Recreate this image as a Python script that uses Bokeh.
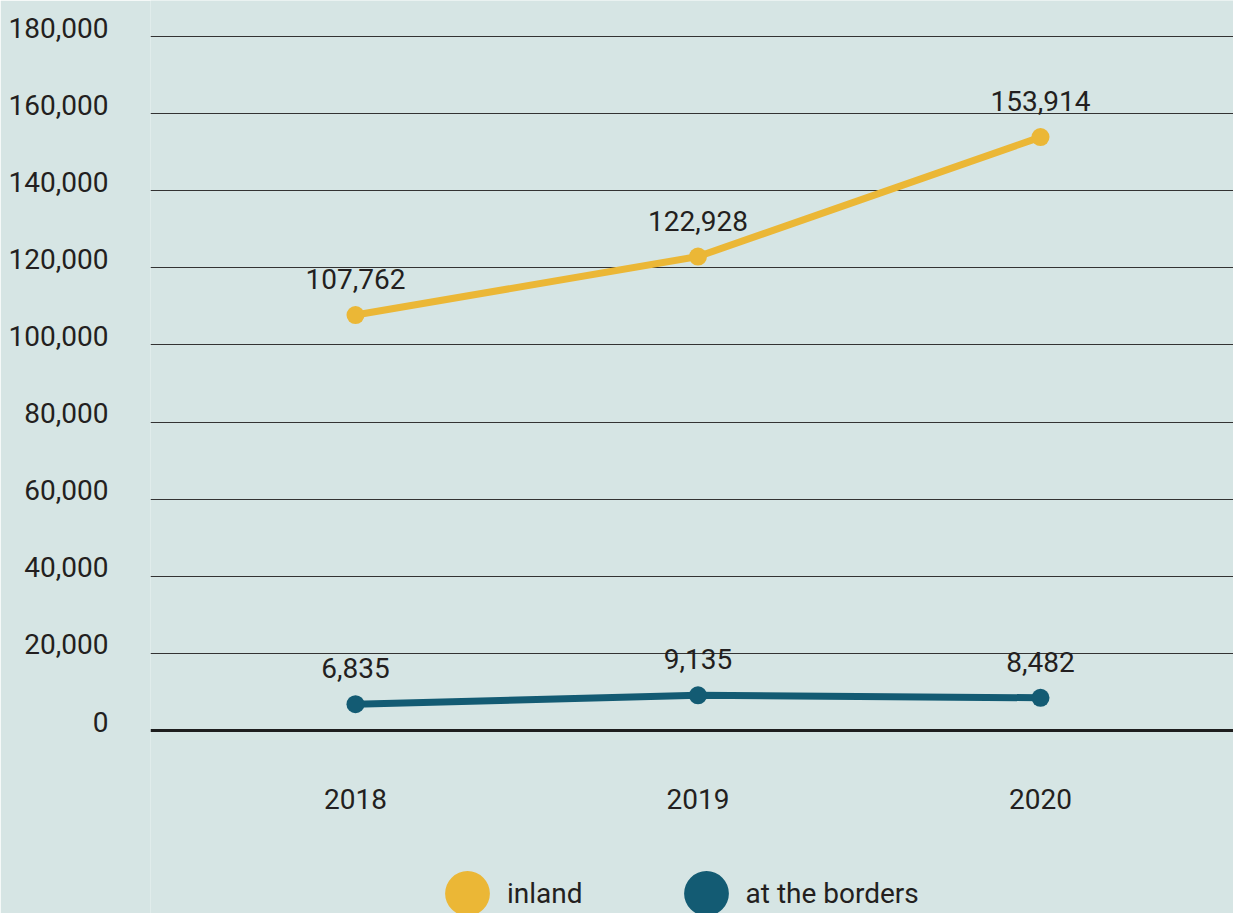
from bokeh.plotting import figure
from bokeh.models import (ColumnDataSource, Range1d, FixedTicker,
                          Legend, LegendItem, Span)
from bokeh.core.properties import value
from bokeh.embed import file_html
from bokeh.resources import INLINE

years = [2018, 2019, 2020]
inland = [107762, 122928, 153914]
borders = [6835, 9135, 8482]
inland_labels = ["107,762", "122,928", "153,914"]
borders_labels = ["6,835", "9,135", "8,482"]
year_labels = ["2018", "2019", "2020"]
y_ticks = [0, 20000, 40000, 60000, 80000, 100000, 120000, 140000, 160000, 180000]

BG = "#d6e5e4"
YELLOW = "#ebb736"
TEAL = "#135b73"
TXT = "#231f20"
FONT = "Roboto"
FS = "28px"

# pixel geometry of the chart
W, H = 1233, 913
LEFT = 150
ZERO_PX = 730
TOP_TICK_PX = 36
PX_PER_UNIT = (ZERO_PX - TOP_TICK_PX) / y_ticks[-1]
LABEL_LIFT_PX = 9

src_in = ColumnDataSource(dict(x=years, y=inland, t=inland_labels))
src_bo = ColumnDataSource(dict(x=years, y=borders, t=borders_labels))
src_yr = ColumnDataSource(dict(x=years, y=[0] * len(years), t=year_labels))

y_start = -(H - ZERO_PX) / PX_PER_UNIT
y_end = ZERO_PX / PX_PER_UNIT
year_px = 342.5
x_start = years[0] - (355 - LEFT) / year_px
x_end = years[-1] + (W - 1040) / year_px

p = figure(width=W, height=H, output_backend="svg", toolbar_location=None,
           x_range=Range1d(x_start, x_end), y_range=Range1d(y_start, y_end),
           min_border_left=LEFT, min_border_right=0, min_border_top=0,
           min_border_bottom=0)
p.background_fill_color = BG
p.border_fill_color = BG
p.outline_line_color = None
p.xaxis.visible = False

# y axis: labels sit slightly above their grid lines
lift = LABEL_LIFT_PX / PX_PER_UNIT
p.yaxis.ticker = FixedTicker(ticks=[t + lift for t in y_ticks])
p.yaxis.major_label_overrides = {t + lift: f"{t:,}" for t in y_ticks}
p.yaxis.axis_line_color = None
p.yaxis.major_tick_line_color = None
p.yaxis.minor_tick_line_color = None
p.yaxis.major_tick_out = 0
p.yaxis.major_tick_in = 0
p.yaxis.major_label_standoff = 42
p.yaxis.major_label_text_font = FONT
p.yaxis.major_label_text_font_size = FS
p.yaxis.major_label_text_color = TXT

p.xgrid.grid_line_color = None
p.ygrid.ticker = FixedTicker(ticks=y_ticks[1:])
p.ygrid.grid_line_color = "#333333"
p.ygrid.grid_line_width = 1

p.add_layout(Span(location=0, dimension="width", line_color="#1e1e1e", line_width=3))

# series
p.line("x", "y", source=src_in, line_color=YELLOW, line_width=7)
r_in = p.ellipse("x", "y", source=src_in, width=18, height=18,
                 width_units="screen", height_units="screen",
                 fill_color=YELLOW, line_color=None)
p.line("x", "y", source=src_bo, line_color=TEAL, line_width=7)
r_bo = p.ellipse("x", "y", source=src_bo, width=18, height=18,
                 width_units="screen", height_units="screen",
                 fill_color=TEAL, line_color=None)

for s in (src_in, src_bo):
    p.text("x", "y", text="t", source=s, y_offset=-36, text_align="center",
           text_baseline="middle", text_font=value(FONT), text_font_size=FS,
           text_color=TXT)

# category labels under the zero line
p.text("x", "y", text="t", source=src_yr, y_offset=68, text_align="center",
       text_baseline="middle", text_font=value(FONT), text_font_size=FS,
       text_color=TXT)

legend = Legend(items=[LegendItem(label="inland", renderers=[r_in]),
                       LegendItem(label="at the borders", renderers=[r_bo])],
                orientation="horizontal", location=(289, -8),
                glyph_width=56, glyph_height=56, label_standoff=12,
                spacing=95, padding=0, margin=0,
                background_fill_alpha=0, border_line_color=None,
                label_text_font=FONT, label_text_font_size=FS,
                label_text_color=TXT)
p.add_layout(legend)

open("out.html", "w").write(file_html(p, INLINE))
